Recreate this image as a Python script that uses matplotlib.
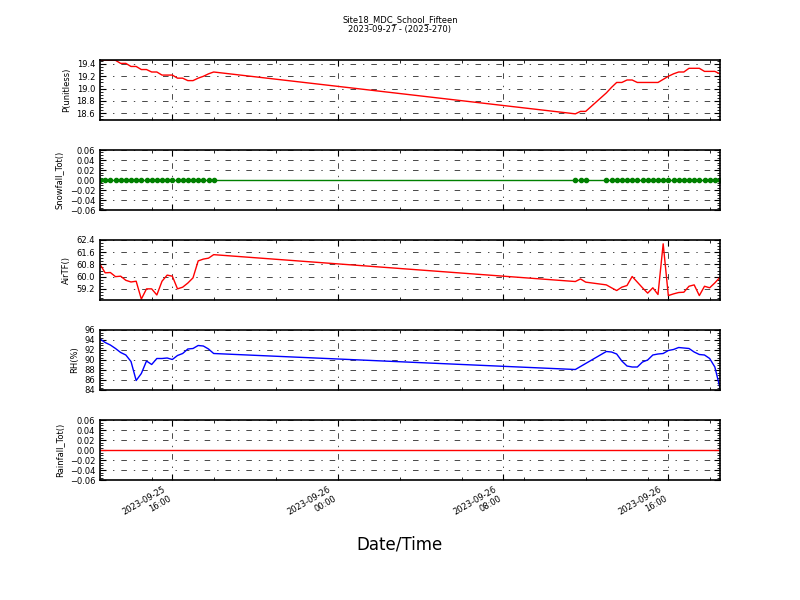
import matplotlib
matplotlib.use('Agg')
import matplotlib.pyplot as plt
import matplotlib.dates as mdates
from matplotlib.ticker import MultipleLocator, AutoMinorLocator
import pandas as pd

plt.rcParams['lines.scale_dashes'] = False

# horários das leituras (a cada 15 min), com a falha de dados no meio
tempos = (list(pd.date_range('2023-09-25 12:30', '2023-09-25 18:00', freq='15min'))
          + list(pd.date_range('2023-09-26 11:30', '2023-09-26 12:00', freq='15min'))
          + list(pd.date_range('2023-09-26 13:00', '2023-09-26 18:30', freq='15min')))

pressao = [19.46, 19.46, 19.46, 19.46, 19.41, 19.41, 19.36, 19.36, 19.31, 19.31, 19.27, 19.27,
           19.22, 19.22, 19.22, 19.17, 19.17, 19.13, 19.13, 19.17, 19.20, 19.24, 19.27,
           18.59, 18.63, 18.63,
           18.93, 19.02, 19.10, 19.10, 19.14, 19.14, 19.10, 19.10, 19.10, 19.10, 19.10, 19.15,
           19.20, 19.24, 19.27, 19.27, 19.33, 19.33, 19.33, 19.28, 19.28, 19.28, 19.24]

neve = [0.0] * 49

temperatura = [60.81, 60.25, 60.27, 60.00, 60.03, 59.76, 59.65, 59.70, 58.53, 59.20, 59.20, 58.80,
               59.70, 60.10, 60.03, 59.20, 59.31, 59.58, 59.92, 61.03, 61.15, 61.21, 61.44,
               59.68, 59.85, 59.64,
               59.46, 59.27, 59.09, 59.31, 59.42, 60.01, 59.64, 59.27, 58.92, 59.27, 58.83, 62.15,
               58.76, 58.87, 58.96, 58.98, 59.37, 59.46, 58.76, 59.37, 59.27, 59.59, 59.96]

umidade = [94.2, 93.5, 93.0, 92.3, 91.5, 91.0, 89.7, 85.9, 87.3, 89.8, 89.1, 90.3,
           90.3, 90.4, 90.1, 90.9, 91.3, 92.2, 92.3, 92.9, 92.8, 92.2, 91.3,
           88.1, 88.7, 89.3,
           91.7, 91.6, 91.2, 89.8, 88.8, 88.6, 88.6, 89.6, 90.0, 91.0, 91.2, 91.3,
           91.9, 92.1, 92.5, 92.4, 92.3, 91.6, 91.1, 91.0, 90.3, 88.6, 84.4]

chuva = [0.0] * 49

titulo = 'Site18_MDC_School_Fifteen\n2023-09-27 - (2023-270)'

# (rótulo, valores, cor, marcador, limites y, passo dos ticks)
paineis = [
    ('P(unitless)', pressao, 'red', None, (18.49, 19.465), 0.2),
    ('Snowfall_Tot()', neve, 'green', 'o', (-0.06, 0.06), 0.02),
    ('AirTF()', temperatura, 'red', None, (58.47, 62.4), 0.8),
    ('RH(%)', umidade, 'blue', None, (84, 96), 2),
    ('Rainfall_Tot()', chuva, 'red', None, (-0.06, 0.06), 0.02),
]

fig, eixos = plt.subplots(5, 1, sharex=True, figsize=(8, 6), dpi=100)
fig.subplots_adjust(left=0.125, right=0.9, bottom=0.2, top=0.9, hspace=0.5)

for ax, (rotulo, valores, cor, marcador, lim, passo) in zip(eixos, paineis):
    ax.plot(tempos, valores, color=cor, lw=1, marker=marcador, ms=3, mec=cor)
    ax.set_ylim(*lim)
    ax.yaxis.set_major_locator(MultipleLocator(passo))
    ax.yaxis.set_minor_locator(AutoMinorLocator())
    ax.set_ylabel(rotulo, fontsize=6)
    ax.tick_params(which='both', direction='in', top=True, right=True, labelsize=6)
    ax.tick_params(which='major', length=4)
    ax.tick_params(which='minor', length=2)
    ax.grid(True, which='major', color='black', linestyle=(0, (4, 5, 1, 5)), linewidth=0.5)
    for s in ax.spines.values():
        s.set_linewidth(1.2)

ax = eixos[-1]
ax.set_xlim(tempos[0], tempos[-1])
ax.xaxis.set_major_locator(mdates.HourLocator(byhour=[0, 8, 16]))
ax.xaxis.set_minor_locator(mdates.HourLocator(byhour=range(0, 24, 3)))
ax.xaxis.set_major_formatter(mdates.DateFormatter('%Y-%m-%d\n%H:%M'))
for lbl in ax.get_xticklabels():
    lbl.set_rotation(30)
    lbl.set_ha('right')
    lbl.set_multialignment('right')
    lbl.set_fontsize(6)

fig.suptitle(titulo, fontsize=6, y=0.975)
fig.text(0.5, 0.093, 'Date/Time', ha='center', va='center', fontsize=12)

plt.savefig('out.png', dpi=100)
